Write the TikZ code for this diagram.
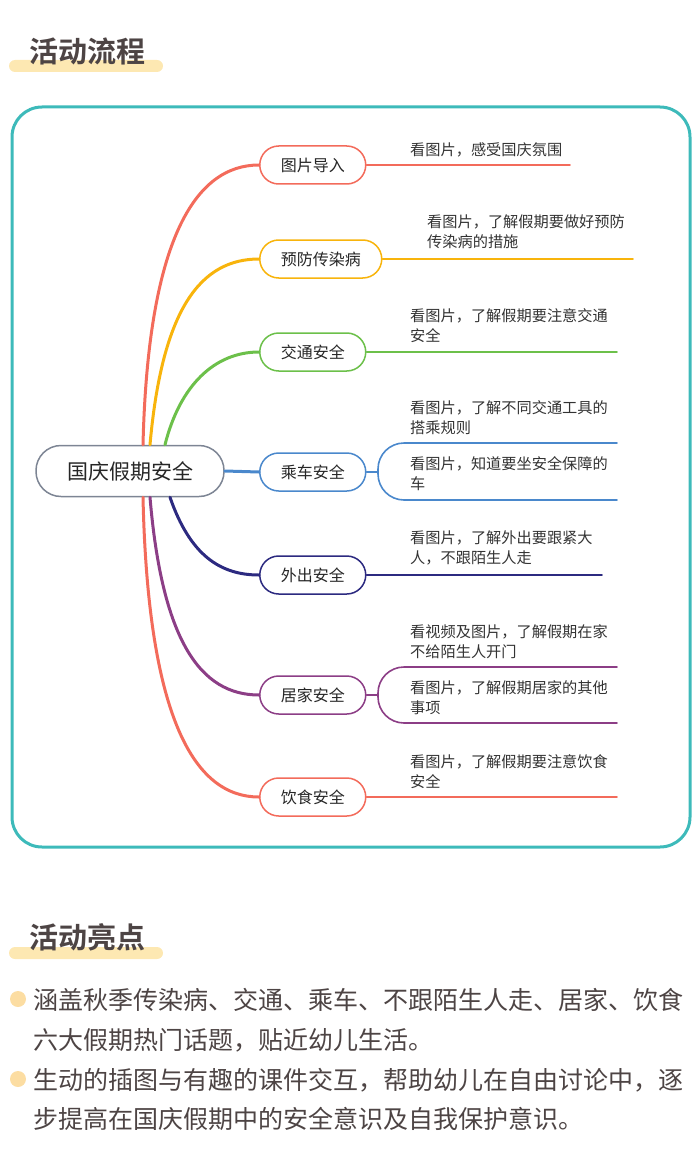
\documentclass[tikz,border=0pt]{standalone}
\usepackage{fontspec}
\setmainfont{Noto Sans CJK SC}[BoldFont={Noto Sans CJK SC Bold}]
\definecolor{mmred}{HTML}{F36B5B}
\definecolor{mmorange}{HTML}{F8B40C}
\definecolor{mmgreen}{HTML}{6CC04A}
\definecolor{mmblue}{HTML}{4A88CC}
\definecolor{mmnavy}{HTML}{2C2A80}
\definecolor{mmpurple}{HTML}{8C3E86}
\definecolor{frameteal}{HTML}{3DBABA}
\definecolor{rootgray}{HTML}{7D8594}
\definecolor{browntext}{HTML}{4D4444}
\definecolor{barfill}{HTML}{FDE8B2}
\definecolor{dotfill}{HTML}{FCDDA2}
\tikzset{
  titletext/.style={font=\fontsize{29}{34}\selectfont\bfseries, text=browntext, inner sep=0pt},
  rootbox/.style={draw=rootgray, line width=1.5pt, rounded corners=25pt, fill=white,
    minimum width=188pt, minimum height=51pt, font=\fontsize{21}{25}\selectfont, text=black!85},
  subbox/.style={draw=#1, line width=1.5pt, rounded corners=19pt, fill=white, anchor=west,
    inner xsep=21pt, minimum height=38pt, font=\fontsize{16}{20}\selectfont, text=black!85},
  branch/.style={draw=#1, line width=3pt},
  leaf/.style={draw=#1, line width=1.6pt},
  leaftext/.style={anchor=west, align=left, inner sep=0pt, text=black!80,
    font=\fontsize{15.2}{20}\selectfont},
  bodytext/.style={anchor=west, inner sep=0pt, text=browntext, font=\fontsize{25}{30}\selectfont},
}
\begin{document}
\begin{tikzpicture}[x=1pt, y=-1pt, line cap=round, line join=round]
\useasboundingbox (0,0) rectangle (700,1169);
% heading 1
\fill[barfill, rounded corners=6pt] (9,60) rectangle (163,72);
\node[titletext] (head1) at (87,51) {活动流程};
% frame
\draw[frameteal, line width=3pt, rounded corners=30pt] (12,107) rectangle (690,847);
% mind map
\node[rootbox] (root) at (130,471) {国庆假期安全};
\node[subbox=mmred] (c1) at (259,165) {图片导入};
\node[subbox=mmorange] (c2) at (259,259) {预防传染病};
\node[subbox=mmgreen] (c3) at (259,352) {交通安全};
\node[subbox=mmblue] (c4) at (259,472) {乘车安全};
\node[subbox=mmnavy] (c5) at (259,575) {外出安全};
\node[subbox=mmpurple] (c6) at (259,695) {居家安全};
\node[subbox=mmred] (c7) at (259,797) {饮食安全};

\draw[branch=mmred] ([xshift=13pt]root.north) .. controls (148,240) and (195,165) .. (c1.west);
\draw[branch=mmorange] ([xshift=20pt]root.north) .. controls (162,310) and (200,259) .. (c2.west);
\draw[branch=mmgreen] ([xshift=35pt]root.north) .. controls (180,385) and (215,352) .. (c3.west);
\draw[branch=mmblue] (root.east) -- (c4.west);
\draw[branch=mmnavy] ([xshift=40pt]root.south) .. controls (190,555) and (220,575) .. (c5.west);
\draw[branch=mmpurple] ([xshift=20pt]root.south) .. controls (162,640) and (200,695) .. (c6.west);
\draw[branch=mmred] ([xshift=13pt]root.south) .. controls (148,720) and (195,797) .. (c7.west);

% leaves
\coordinate (l1) at (570,165);
\coordinate (l2) at (633,259);
\coordinate (l3) at (617,352);
\coordinate (b4) at (378,472);
\coordinate (l4a) at (617,443);
\coordinate (l4b) at (617,500);
\coordinate (l5) at (602,575);
\coordinate (b6) at (378,695);
\coordinate (l6a) at (617,667);
\coordinate (l6b) at (617,723);
\coordinate (l7) at (617,797);
\draw[leaf=mmred] (c1.east) -- (l1);
\draw[leaf=mmorange] (c2.east) -- (l2);
\draw[leaf=mmgreen] (c3.east) -- (l3);
\draw[leaf=mmblue] (c4.east) -- (b4);
\draw[leaf=mmblue, rounded corners=26pt] (b4) |- (l4a);
\draw[leaf=mmblue, rounded corners=26pt] (b4) |- (l4b);
\draw[leaf=mmnavy] (c5.east) -- (l5);
\draw[leaf=mmpurple] (c6.east) -- (b6);
\draw[leaf=mmpurple, rounded corners=26pt] (b6) |- (l6a);
\draw[leaf=mmpurple, rounded corners=26pt] (b6) |- (l6b);
\draw[leaf=mmred] (c7.east) -- (l7);

\node[leaftext] (t1) at (410,150) {看图片，感受国庆氛围};
\node[leaftext] (t2) at (427,232) {看图片，了解假期要做好预防\\传染病的措施};
\node[leaftext] (t3) at (410,326) {看图片，了解假期要注意交通\\安全};
\node[leaftext] (t4a) at (410,418) {看图片，了解不同交通工具的\\搭乘规则};
\node[leaftext] (t4b) at (410,474) {看图片，知道要坐安全保障的\\车};
\node[leaftext] (t5) at (410,548) {看图片，了解外出要跟紧大\\人，不跟陌生人走};
\node[leaftext] (t6a) at (410,642) {看视频及图片，了解假期在家\\不给陌生人开门};
\node[leaftext] (t6b) at (410,698) {看图片，了解假期居家的其他\\事项};
\node[leaftext] (t7) at (410,772) {看图片，了解假期要注意饮食\\安全};

% heading 2
\fill[barfill, rounded corners=6pt] (9,947) rectangle (163,959);
\node[titletext] (head2) at (87,937) {活动亮点};
% highlights
\fill[dotfill] (18,999) circle (8);
\fill[dotfill] (18,1079) circle (8);
\node[bodytext] (p1) at (33,1000) {涵盖秋季传染病、交通、乘车、不跟陌生人走、居家、饮食};
\node[bodytext] (p2) at (33,1040) {六大假期热门话题，贴近幼儿生活。};
\node[bodytext] (p3) at (33,1080) {生动的插图与有趣的课件交互，帮助幼儿在自由讨论中，逐};
\node[bodytext] (p4) at (33,1119) {步提高在国庆假期中的安全意识及自我保护意识。};
\end{tikzpicture}
\end{document}
